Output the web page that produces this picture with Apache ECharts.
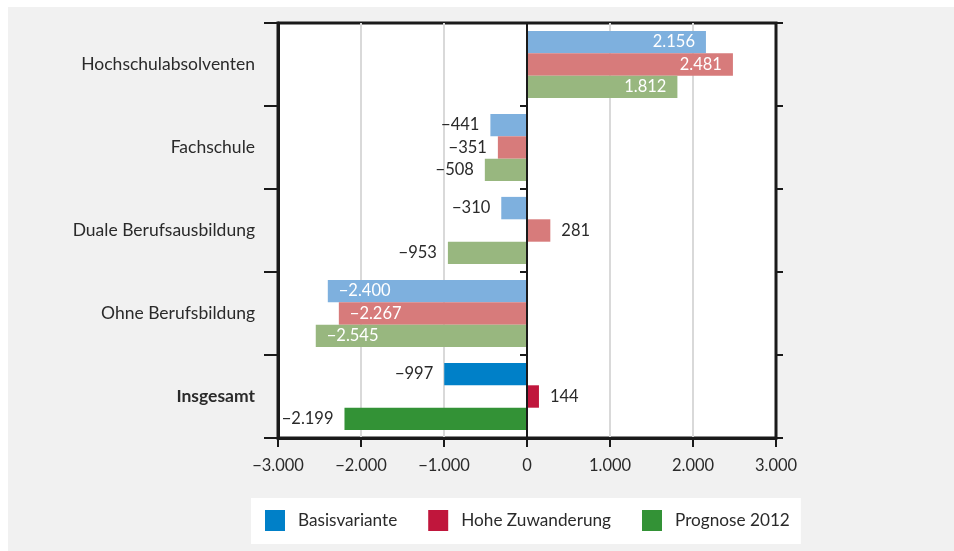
<!DOCTYPE html>
<html>
<head>
<meta charset="utf-8">
<script src="https://cdn.jsdelivr.net/npm/echarts@6/dist/echarts.min.js"></script>
<style>
html,body{margin:0;padding:0;background:#fff;}
#wrap{position:absolute;left:8px;top:7px;width:946px;height:544px;background:#f1f1f1;}
#chart{position:absolute;left:0;top:0;width:954px;height:551px;}
</style>
</head>
<body>
<div id="wrap"></div>
<div id="chart"></div>
<script>
const categories = ['Hochschulabsolventen', 'Fachschule', 'Duale Berufsausbildung', 'Ohne Berufsbildung', 'Insgesamt'];
const seriesNames = ['Basisvariante', 'Hohe Zuwanderung', 'Prognose 2012'];
const basisvariante = [2156, -441, -310, -2400, -997];
const hoheZuwanderung = [2481, -351, 281, -2267, 144];
const prognose2012 = [1812, -508, -953, -2545, -2199];
const xTicks = { min: -3000, max: 3000, interval: 1000 };

const lightColors = ['#7eb0de', '#d77b7b', '#98b77f'];
const darkColors = ['#0080c8', '#c0163c', '#339236'];
const FONT = 'Lato';
const TXT = '#2a2a2a';

function fmt(v) {
  const s = Math.abs(v).toString().replace(/\B(?=(\d{3})+(?!\d))/g, '.');
  return (v < 0 ? '\u2212' : '') + s;
}

function buildData(values, si) {
  return values.map((v, i) => {
    const total = i === categories.length - 1;
    const inside = !total && Math.abs(v) > 1500;
    let position;
    if (inside) position = v < 0 ? 'insideLeft' : 'insideRight';
    else position = v < 0 ? 'left' : 'right';
    return {
      value: v,
      itemStyle: { color: total ? darkColors[si] : lightColors[si] },
      label: {
        show: true,
        position: position,
        distance: 11,
        color: inside ? '#ffffff' : TXT,
        fontFamily: FONT,
        fontSize: 16.5,
        formatter: p => fmt(p.value)
      }
    };
  });
}

const allSeries = [basisvariante, hoheZuwanderung, prognose2012].map((vals, si) => ({
  name: seriesNames[si],
  type: 'bar',
  yAxisIndex: 0,
  barGap: '0%',
  barCategoryGap: '19%',
  itemStyle: { color: darkColors[si] },
  data: buildData(vals, si),
  z: 2
}));

const catData = categories.map((c, i) => i === categories.length - 1
  ? { value: c, textStyle: { fontWeight: 'bold' } } : c);

const chart = echarts.init(document.getElementById('chart'), null, { renderer: 'canvas' });
chart.setOption({
  backgroundColor: 'transparent',
  animation: false,
  textStyle: { fontFamily: FONT },
  grid: {
    left: 278, right: 178, top: 23, bottom: 113,
    show: true, backgroundColor: '#ffffff',
    borderColor: '#1a1a1a', borderWidth: 3
  },
  legend: {
    left: 251, top: 498,
    backgroundColor: '#ffffff',
    padding: [12, 11, 13, 14],
    itemWidth: 20, itemHeight: 21,
    itemGap: 31,
    icon: 'rect',
    textStyle: { fontFamily: FONT, fontSize: 17.2, color: TXT, padding: [0, 0, 0, 8] },
    data: seriesNames
  },
  xAxis: {
    type: 'value',
    min: xTicks.min, max: xTicks.max, interval: xTicks.interval,
    axisLine: { show: true, onZero: false, lineStyle: { color: '#1a1a1a', width: 3 } },
    axisTick: { show: true, length: 9, lineStyle: { color: '#1a1a1a', width: 2 } },
    axisLabel: { margin: 19, fontFamily: FONT, fontSize: 16.5, color: TXT, formatter: v => fmt(v) },
    splitLine: { show: true, lineStyle: { color: '#d9d9d9', width: 2 } }
  },
  yAxis: [
    {
      type: 'category', data: catData, inverse: true, position: 'left',
      axisLine: { show: true, onZero: false, lineStyle: { color: '#1a1a1a', width: 3 } },
      axisTick: { show: true, length: 14, lineStyle: { color: '#1a1a1a', width: 2 } },
      axisLabel: { margin: 23, fontFamily: FONT, fontSize: 17.5, color: TXT },
      splitLine: { show: false }
    },
    {
      type: 'category', data: categories, inverse: true,
      axisLine: { show: true, onZero: true, lineStyle: { color: '#1a1a1a', width: 2 } },
      axisTick: { show: true, inside: true, length: 7, lineStyle: { color: '#1a1a1a', width: 2 } },
      axisLabel: { show: false }, splitLine: { show: false }, z: 5
    },
    {
      type: 'category', data: categories, inverse: true,
      axisLine: { show: true, onZero: true, lineStyle: { color: '#1a1a1a', width: 2 } },
      axisTick: { show: true, inside: false, length: 7, lineStyle: { color: '#1a1a1a', width: 2 } },
      axisLabel: { show: false }, splitLine: { show: false }, z: 5
    }
  ],
  series: allSeries
});
</script>
</body>
</html>
